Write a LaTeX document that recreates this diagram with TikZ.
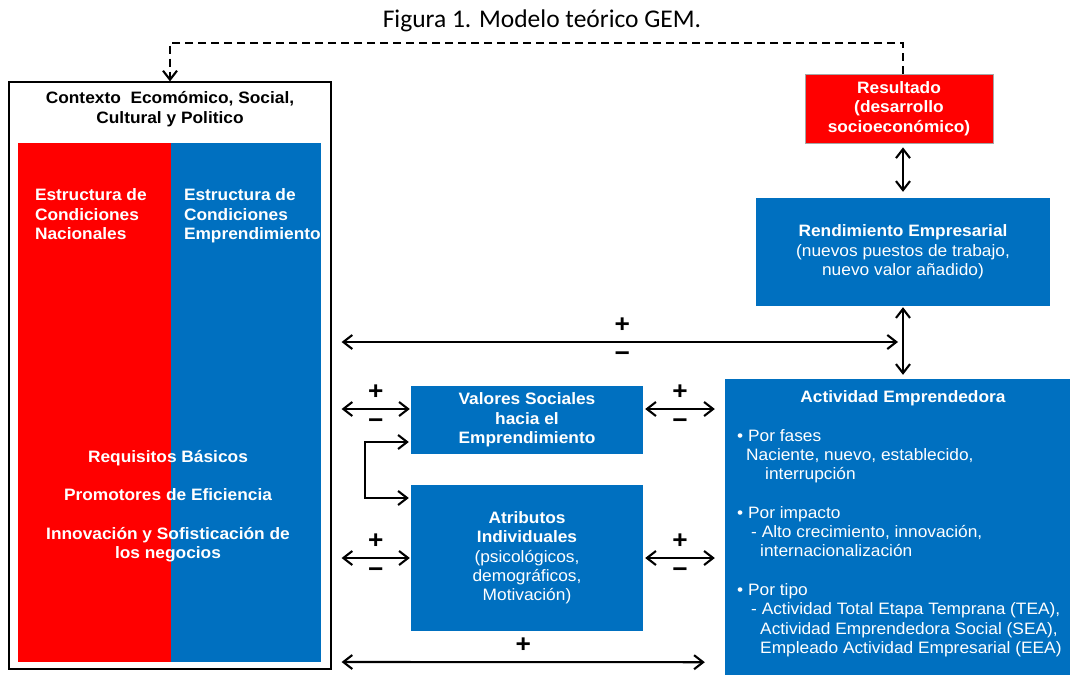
\documentclass[tikz,border=0pt]{standalone}
\usepackage{fontspec}
\setmainfont{Liberation Sans}[FakeStretch=1.05]
\newfontfamily\titlefont{Carlito}
\usetikzlibrary{calc,arrows.meta}
\definecolor{gemblue}{HTML}{0070C0}
\definecolor{gemred}{HTML}{FF0000}
\tikzset{
	gembox/.style={fill=gemblue, text=white, align=center, inner sep=0pt},
	redbox/.style={gembox, fill=gemred, draw=gray!70, line width=0.8pt, font=\bfseries},
	paneltext/.style={text=white, font=\bfseries, inner sep=0pt},
	link/.style={line width=2.1pt},
	sign/.style={font=\bfseries\fontsize{25}{25}\selectfont, inner sep=0pt},
	mas/.style={sign, midway, yshift=17pt},
	menos/.style={sign, midway, yshift=-15pt},
}

\begin{document}
\fontsize{16.5}{19.3}\selectfont
\begin{tikzpicture}[x=1pt, y=-1pt, >={Straight Barb[length=9pt,width=14pt]}]
	\useasboundingbox (0,0) rectangle (1070,675);
	\node[font=\titlefont\fontsize{25.5}{25.5}\selectfont] (titulo) at (542,21) {Figura 1. Modelo teórico GEM.};
	\node[draw, line width=1.2pt, minimum width=322pt, minimum height=587pt] (contexto) at (170,375.5) {};
	\node[font=\bfseries, align=center, anchor=north, inner sep=0pt] (cabecera) at ($(contexto.north)+(0,10)$) {Contexto\ \ Ecomómico, Social,\\Cultural y Politico};
	\node[fill=gemred, minimum width=153pt, minimum height=519pt, inner sep=0pt] (nacionales) at (94.5,402.5) {};
	\node[fill=gemblue, minimum width=150pt, minimum height=519pt, inner sep=0pt] (emprendimiento) at (246,402.5) {};
	\node[paneltext, align=left, anchor=north west] at ($(nacionales.north west)+(17,46)$) {Estructura de\\Condiciones\\Nacionales};
	\node[paneltext, align=left, anchor=north west] at ($(emprendimiento.north west)+(13,46)$) {Estructura de\\Condiciones\\Emprendimiento};
	\node[paneltext, anchor=north] (requisitos) at (168,450) {Requisitos Básicos};
	\node[paneltext, anchor=north] (promotores) at (168,488) {Promotores de Eficiencia};
	\node[paneltext, align=center, anchor=north] (innovacion) at (168,527) {Innovación y Sofisticación de\\los negocios};
	\node[redbox, minimum width=188pt, minimum height=69pt] (resultado) at (899,108.5) {Resultado\\(desarrollo\\socioeconómico)};
	\node[gembox, minimum width=294pt, minimum height=108pt] (rendimiento) at (903,252) {\textbf{Rendimiento Empresarial}\\(nuevos puestos de trabajo,\\nuevo valor añadido)};
	\node[gembox, minimum width=345pt, minimum height=296pt] (actividad) at (897.5,527) {};
	\node[paneltext, anchor=north] (actitulo) at ($(actividad.north)+(5.5,12)$) {Actividad Emprendedora};
	\node[text=white, align=left, anchor=north west, inner sep=0pt] (actlista) at (737,429) {• Por fases\\
		\hspace*{9pt}Naciente, nuevo, establecido,\\
		\hspace*{28pt}interrupción\\[19.3pt]
		• Por impacto\\
		\hspace*{14pt}- Alto crecimiento, innovación,\\
		\hspace*{23pt}internacionalización\\[19.3pt]
		• Por tipo\\
		\hspace*{14pt}- Actividad Total Etapa Temprana (TEA),\\
		\hspace*{23pt}Actividad Emprendedora Social (SEA),\\
		\hspace*{23pt}Empleado Actividad Empresarial (EEA)};
	\node[gembox, font=\bfseries, minimum width=232pt, minimum height=68pt] (valores) at (527,420) {Valores Sociales\\hacia el\\Emprendimiento};
	\node[gembox, minimum width=232pt, minimum height=146pt] (atributos) at (527,558) {\textbf{Atributos}\\\textbf{Individuales}\\(psicológicos,\\demográficos,\\Motivación)};
	\coordinate (izq) at ($(contexto.east)+(10,0)$);
	\draw[link, dash pattern=on 8pt off 5pt, ->] (resultado.north -| rendimiento.north) -- ++(0,-31) -| (contexto.north);
	\draw[link, <->, shorten <=4pt, shorten >=6pt] (resultado.south -| rendimiento.north) -- (rendimiento.north);
	\draw[link, <->, shorten <=1pt, shorten >=4pt] (rendimiento.south) -- (actividad.north -| rendimiento.south);
	\draw[link, <->, shorten >=5pt] (izq |- 0,342) -- (rendimiento.south |- 0,342) node[mas] {+} node[menos] {−};
	\draw[link, <->] (izq |- 0,409) -- ($(valores.west)+(-1,-11)$) node[mas] {+} node[menos] {−};
	\draw[link, <->] ($(valores.east)+(2,-11)$) -- ($(actividad.west |- valores.west)+(-10,-11)$) node[mas] {+} node[menos] {−};
	\draw[link, <->, shorten <=2pt, shorten >=2pt] ($(valores.west)+(0,22)$) -- ++(-46,0) |- ($(atributos.west)+(0,-60)$);
	\draw[link, <->] (izq |- atributos.west) -- ($(atributos.west)+(-1,0)$) node[mas] {+} node[menos] {−};
	\draw[link, <->] ($(atributos.east)+(2,0)$) -- ($(actividad.west |- atributos.west)+(-10,0)$) node[mas] {+} node[menos] {−};
	\draw[link, <->] (izq |- 0,662) -- ($(actividad.south west)+(-20,-13)$) node[mas] {+};
\end{tikzpicture}
\end{document}
